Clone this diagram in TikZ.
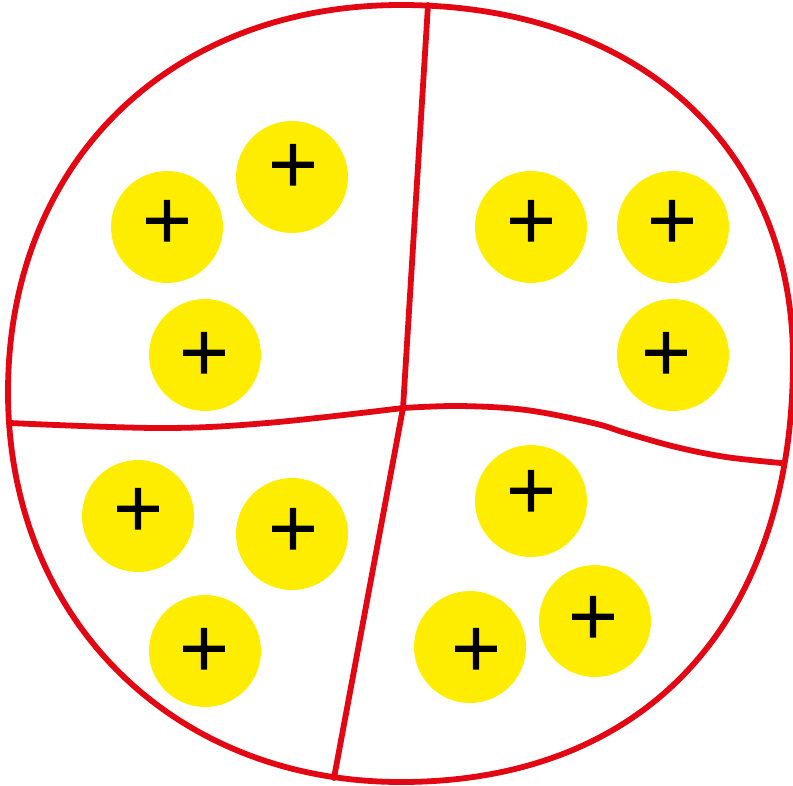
\documentclass[tikz,border=0pt]{standalone}
\usepackage{fontspec}
\usepackage{tikz}
\newfontfamily\signfont[FakeBold=2]{Liberation Serif}
\definecolor{cellred}{RGB}{227,6,19}
\definecolor{ionyellow}{RGB}{255,237,0}
\tikzset{
  wall/.style={draw=cellred, line width=3.3pt, line join=round, line cap=round},
  ion/.style={circle, fill=ionyellow, minimum size=2.24cm, inner sep=0pt},
  sign/.style={inner sep=0pt, text=black, font=\signfont\fontsize{49}{49}\selectfont}
}

\begin{document}
\begin{tikzpicture}[x=0.02cm, y=-0.02cm]
  \useasboundingbox (0,0) rectangle (793,785);

  % Junctions of the walls
  \coordinate (top) at (428,5);
  \coordinate (mid) at (403,408);
  \coordinate (left) at (10,423);
  \coordinate (right) at (781,463);
  \coordinate (bottom) at (334,778);

  % Outer wall
  \draw[wall] (401,5) .. controls (637,5) and (793,146) .. (793,360)
    .. controls (793,623) and (645,782) .. (401,782)
    .. controls (173,782) and (8,619) .. (8,392)
    .. controls (8,163) and (169,5) .. (401,5) -- cycle;

  % Inner walls
  \draw[wall] (top) -- (mid) -- (bottom);
  \draw[wall] plot[smooth, tension=0.6] coordinates {
    (left) (160,428) (267,423) (mid)};
  \draw[wall] plot[smooth, tension=0.6] coordinates {
    (mid) (460,406) (526,410) (593,423) (626,433) (676,447) (726,457)
    (right)};

  % Top left cell
  \node[ion] (tl1) at (167,227) {};
  \node[ion] (tl2) at (292,177) {};
  \node[ion] (tl3) at (205,355) {};
  \node[sign] (tl1s) at (167,225) {+};
  \node[sign] (tl2s) at (293,169) {+};
  \node[sign] (tl3s) at (204,357) {+};

  % Top right cell
  \node[ion] (tr1) at (531,227) {};
  \node[ion] (tr2) at (673,227) {};
  \node[ion] (tr3) at (673,355) {};
  \node[sign] (tr1s) at (531,225) {+};
  \node[sign] (tr2s) at (672,225) {+};
  \node[sign] (tr3s) at (666,357) {+};

  % Bottom left cell
  \node[ion] (bl1) at (138,516) {};
  \node[ion] (bl2) at (292,534) {};
  \node[ion] (bl3) at (205,651) {};
  \node[sign] (bl1s) at (138,513) {+};
  \node[sign] (bl2s) at (293,533) {+};
  \node[sign] (bl3s) at (204,653) {+};

  % Bottom right cell
  \node[ion] (br1) at (531,501) {};
  \node[ion] (br2) at (595,621) {};
  \node[ion] (br3) at (470,647) {};
  \node[sign] (br1s) at (531,495) {+};
  \node[sign] (br2s) at (593,621) {+};
  \node[sign] (br3s) at (476,653) {+};
\end{tikzpicture}
\end{document}
